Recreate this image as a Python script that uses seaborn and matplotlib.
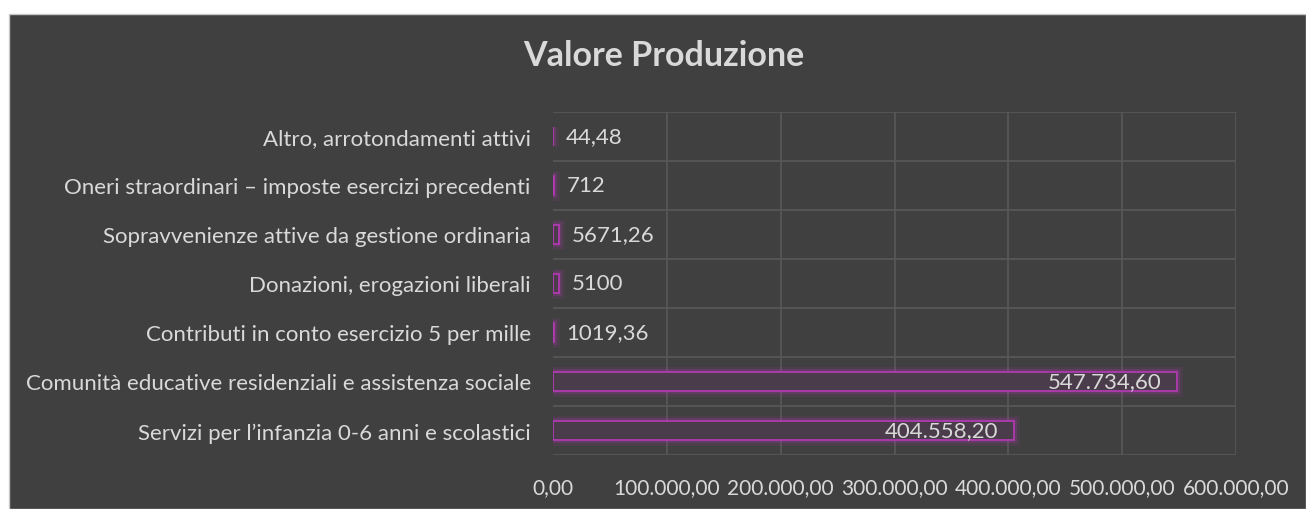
import matplotlib
matplotlib.use("Agg")
import matplotlib.pyplot as plt
import matplotlib.patheffects as pe
from matplotlib.patches import Rectangle
from matplotlib.ticker import FuncFormatter
import seaborn as sns
import pandas as pd

sns.set_style("dark")
plt.rcParams["font.family"] = ["Lato", "DejaVu Sans"]

# data
categories = [
    "Altro, arrotondamenti attivi",
    "Oneri straordinari \u2013 imposte esercizi precedenti",
    "Sopravvenienze attive da gestione ordinaria",
    "Donazioni, erogazioni liberali",
    "Contributi in conto esercizio 5 per mille",
    "Comunit\u00e0 educative residenziali e assistenza sociale",
    "Servizi per l\u2019infanzia 0-6 anni e scolastici",
]
values = [44.48, 712, 5671.26, 5100, 1019.36, 547734.60, 404558.20]
value_labels = ["44,48", "712", "5671,26", "5100", "1019,36", "547.734,60", "404.558,20"]
x_ticks = [0, 100000, 200000, 300000, 400000, 500000, 600000]

df = pd.DataFrame({"categoria": categories, "valore": values})

bg = "#404040"
txt = "#d9d9d9"
grid = "#595959"
magenta = "#b03ab0"
fs = 16

fig = plt.figure(figsize=(13.06, 5.10), dpi=100)
fig.patch.set_facecolor("white")
# dark chart area with a thin light border, offset from the top-left corner
fig.patches.append(Rectangle((9 / 1306, 0), 1 - 9 / 1306, 1 - 15 / 510,
                             transform=fig.transFigure, facecolor=bg,
                             edgecolor="#c8c8c8", linewidth=1.0, zorder=-5))

ax = fig.add_axes([553 / 1306, 54 / 510, 683 / 1306, 343 / 510])
ax.set_facecolor("none")

sns.barplot(ax=ax, data=df, x="valore", y="categoria", orient="h",
            width=0.37, color="#4b3c4b", linewidth=1.3, edgecolor=magenta,
            saturation=1, errorbar=None, zorder=3)

glow = [pe.Stroke(linewidth=8, foreground=magenta, alpha=0.10),
        pe.Stroke(linewidth=4.5, foreground=magenta, alpha=0.22),
        pe.Normal()]
for p in ax.patches:
    p.set_path_effects(glow)

# value labels: outside end for small bars, inside end for the big ones
for i, (v, lab) in enumerate(zip(values, value_labels)):
    if v > 100000:
        ax.annotate(lab, xy=(v, i), xytext=(-11, 0), textcoords="offset points",
                    ha="right", va="center", color=txt, fontsize=fs, zorder=5)
    else:
        ax.annotate(lab, xy=(v, i), xytext=(9, 0), textcoords="offset points",
                    ha="left", va="center", color=txt, fontsize=fs, zorder=5)

ax.set_xlim(0, 600000)
ax.set_ylim(6.5, -0.5)
ax.set_xticks(x_ticks)


def it_fmt(x, pos):
    s = f"{x:,.2f}"
    return s.replace(",", "X").replace(".", ",").replace("X", ".")


ax.xaxis.set_major_formatter(FuncFormatter(it_fmt))

# gridlines: vertical at value ticks, horizontal between categories
ax.set_yticks([i + 0.5 for i in range(-1, 7)], minor=True)
ax.grid(True, which="major", axis="x", color=grid, linewidth=1.2, zorder=0)
ax.grid(True, which="minor", axis="y", color=grid, linewidth=1.2, zorder=0)
ax.grid(False, which="major", axis="y")
ax.get_xgridlines()[0].set_visible(False)

ax.tick_params(axis="both", which="both", length=0, colors=txt)
ax.tick_params(axis="x", pad=16, labelsize=15)
ax.tick_params(axis="y", pad=16, labelsize=fs)
ax.set_xlabel("")
ax.set_ylabel("")
for s in ax.spines.values():
    s.set_visible(False)

fig.text(664 / 1306, 1 - 56 / 510, "Valore Produzione", ha="center", va="center",
         color=txt, fontsize=24.5, fontweight="bold")

fig.savefig("out.png", dpi=100)
